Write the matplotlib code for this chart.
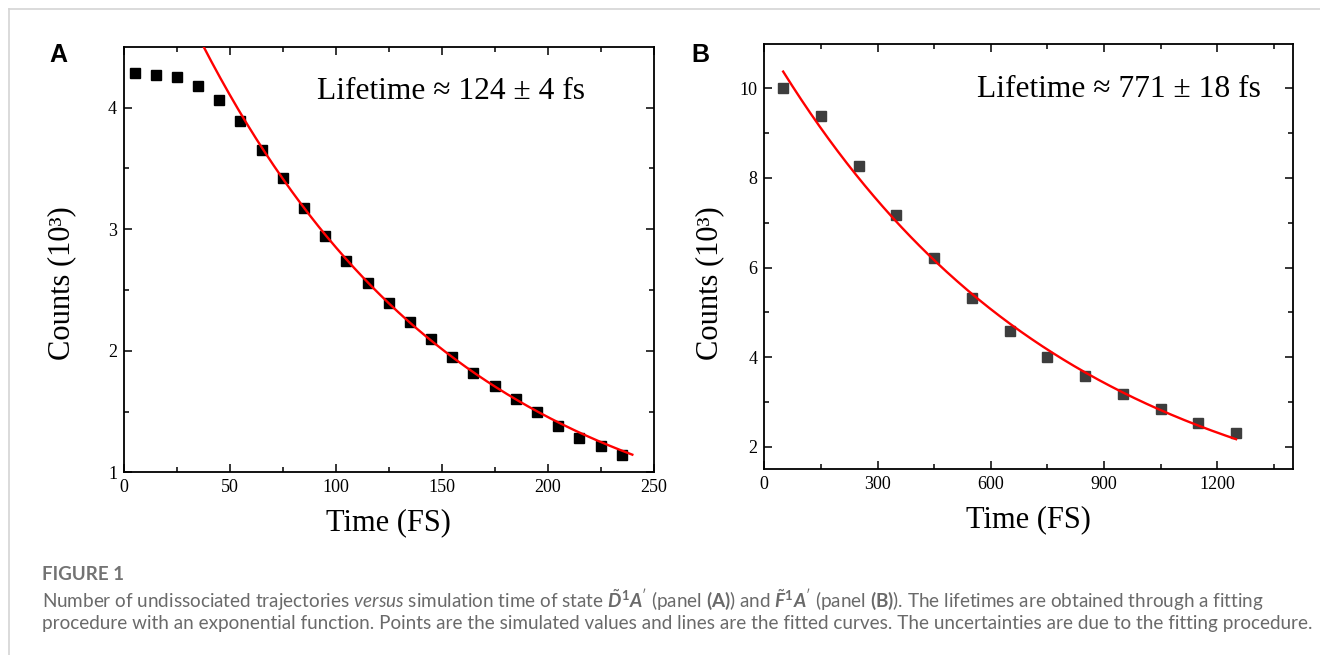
import numpy as np
import matplotlib
matplotlib.use("Agg")
import matplotlib.pyplot as plt
from matplotlib.lines import Line2D

# ---------------- data ----------------
time_a = [5, 15, 25, 35, 45, 55, 65, 75, 85, 95, 105, 115, 125, 135, 145, 155,
          165, 175, 185, 195, 205, 215, 225, 235]
counts_a = [4.28, 4.27, 4.25, 4.18, 4.06, 3.89, 3.65, 3.42, 3.17, 2.94, 2.74, 2.56,
            2.39, 2.24, 2.10, 1.95, 1.82, 1.71, 1.60, 1.50, 1.38, 1.28, 1.22, 1.145]

time_b = [50, 150, 250, 350, 450, 550, 650, 750, 850, 950, 1050, 1150, 1250]
counts_b = [10.0, 9.375, 8.26, 7.17, 6.21, 5.33, 4.58, 4.01, 3.58, 3.17, 2.84, 2.54, 2.30]

# fitted exponential parameters  y = amp * exp(-t / tau) + offset
fit_a_amp, fit_a_tau, fit_a_offset = 5.646, 124.0, 0.33
fit_a_range = (30, 240)
fit_b_amp, fit_b_tau, fit_b_offset = 11.09, 771.0, -0.02
fit_b_range = (50, 1250)

label_a = "Lifetime ≈ 124 ± 4 fs"
label_b = "Lifetime ≈ 771 ± 18 fs"
xlabel = "Time (FS)"
ylabel = "Counts (10³)"

# ---------------- style ----------------
plt.rcParams['mathtext.fontset'] = 'custom'
plt.rcParams['mathtext.rm'] = 'Lato'
plt.rcParams['mathtext.it'] = 'Lato:italic'
plt.rcParams['mathtext.bf'] = 'Lato:bold'
if 'mathtext.bfit' in plt.rcParams:
    plt.rcParams['mathtext.bfit'] = 'Lato:italic:bold'

SERIF = 'Liberation Serif'
W, H = 1320, 655
fig = plt.figure(figsize=(W / 100, H / 100), dpi=100)

def px_axes(left, top, right, bottom):
    return fig.add_axes([left / W, 1 - bottom / H, (right - left) / W, (bottom - top) / H])

axA = px_axes(124, 46.7, 653.5, 472.3)
axB = px_axes(764.3, 43.5, 1292.7, 469.3)

def style_axes(ax):
    for s in ax.spines.values():
        s.set_linewidth(1.3)
    ax.tick_params(which='both', direction='in', top=True, right=True, width=1.1,
                   labelsize=13, pad=5)
    ax.tick_params(which='major', length=6)
    ax.tick_params(which='minor', length=3.5)
    for lab in ax.get_xticklabels() + ax.get_yticklabels():
        lab.set_fontfamily(SERIF)

# Panel A
axA.plot(time_a, counts_a, linestyle='none', marker='s', markersize=7,
         color='black', zorder=3)
ta = np.linspace(*fit_a_range, 300)
axA.plot(ta, fit_a_amp * np.exp(-ta / fit_a_tau) + fit_a_offset, color='#ff0000', lw=1.7, zorder=4)
axA.set_xlim(0, 250)
axA.set_ylim(1, 4.5)
axA.set_xticks(np.arange(0, 251, 50))
axA.set_xticks(np.arange(25, 250, 50), minor=True)
axA.set_yticks([1, 2, 3, 4])
axA.set_yticks([1.5, 2.5, 3.5], minor=True)
style_axes(axA)
axA.text(0.617, 0.894, label_a, transform=axA.transAxes, ha='center', va='center',
         fontsize=22.7, family=SERIF)

# Panel B
axB.plot(time_b, counts_b, linestyle='none', marker='s', markersize=7,
         color='#3d3d3d', zorder=3)
tb = np.linspace(*fit_b_range, 300)
axB.plot(tb, fit_b_amp * np.exp(-tb / fit_b_tau) + fit_b_offset, color='#ff0000', lw=1.7, zorder=4)
axB.set_xlim(0, 1400)
axB.set_ylim(1.5, 11)
axB.set_xticks(np.arange(0, 1201, 300))
axB.set_xticks(np.arange(150, 1400, 300), minor=True)
axB.set_yticks([2, 4, 6, 8, 10])
axB.set_yticks([3, 5, 7, 9], minor=True)
style_axes(axB)
axB.text(0.671, 0.891, label_b, transform=axB.transAxes, ha='center', va='center',
         fontsize=22.7, family=SERIF)

for ax, ylx, yly in ((axA, -0.117, 0.445), (axB, -0.103, 0.4375)):
    ax.set_xlabel(xlabel, fontsize=22, family=SERIF)
    ax.set_ylabel(ylabel, fontsize=22, family=SERIF)
    ax.xaxis.set_label_coords(0.5, -0.119)
    ax.xaxis.label.set_va('center')
    ax.yaxis.set_label_coords(ylx, yly)
    ax.yaxis.label.set_va('center')

# panel letters
fig.text(58 / W, 1 - 55 / H, "A", fontsize=18, fontweight='bold', family='Liberation Sans',
         ha='center', va='center')
fig.text(700 / W, 1 - 55 / H, "B", fontsize=18, fontweight='bold', family='Liberation Sans',
         ha='center', va='center')

# border lines
fig.add_artist(Line2D([9.3 / W, 1], [1 - 9.3 / H, 1 - 9.3 / H], color='#d4d4d4', lw=1.2,
                      transform=fig.transFigure))
fig.add_artist(Line2D([9.3 / W, 9.3 / W], [1 - 9.3 / H, 0], color='#d4d4d4', lw=1.2,
                      transform=fig.transFigure))

# caption
cap_color = '#6a6a6a'
fig.text(42 / W, 1 - 575 / H, "FIGURE 1", fontsize=13.5, fontweight='bold', family='Lato',
         color='#737373', ha='left', va='center')
line1 = (r"Number of undissociated trajectories $\mathit{versus}$ simulation time of state "
         r"$\tilde{\mathbfit{D}}^{\mathbf{1}}\mathbfit{A}'$ (panel $\mathbf{(A)}$) and "
         r"$\tilde{\mathbfit{F}}^{\mathbf{1}}\mathbfit{A}'$ (panel $\mathbf{(B)}$). "
         r"The lifetimes are obtained through a fitting")
line2 = ("procedure with an exponential function. Points are the simulated values and lines "
         "are the fitted curves. The uncertainties are due to the fitting procedure.")
t1 = fig.text(42 / W, 1 - 600 / H, line1, fontsize=12.5, family='Lato', color=cap_color,
              ha='left', va='center')
t2 = fig.text(42 / W, 1 - 623 / H, line2, fontsize=12.5, family='Lato', color=cap_color,
              ha='left', va='center')

# fit caption width to the reference line length
fig.canvas.draw()
r = fig.canvas.get_renderer()
w2 = t2.get_window_extent(r).width
scale = 1274 / w2
t1.set_fontsize(12.5 * scale)
t2.set_fontsize(12.5 * scale)

fig.savefig("out.png", dpi=100)
